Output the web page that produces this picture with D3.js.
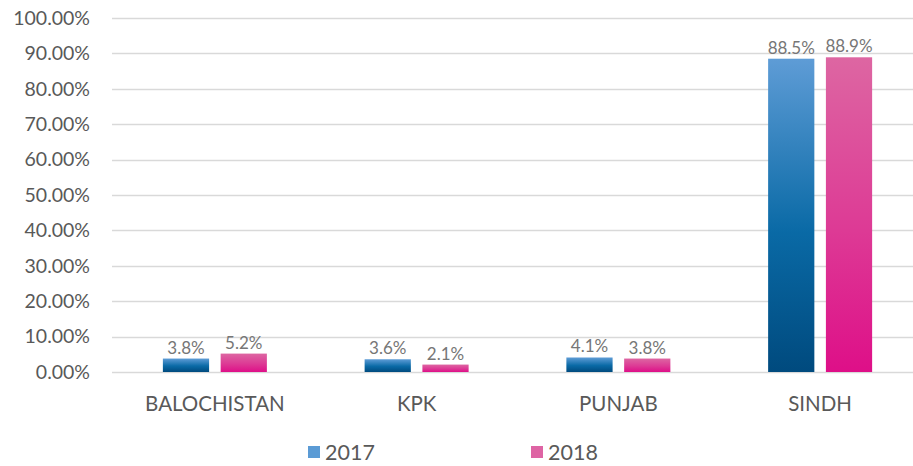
<!DOCTYPE html>
<html>
<head>
<meta charset="utf-8">
<script src="https://cdn.jsdelivr.net/npm/d3@7"></script>
<style>
  body { margin: 0; background: #fff; }
  text { font-family: Lato, "Noto Sans", sans-serif; }
</style>
</head>
<body>
<div id="chart-area"></div>
<script>
var provinces = ["BALOCHISTAN", "KPK", "PUNJAB", "SINDH"];
var years = ["2017", "2018"];
var values2017 = [3.8, 3.6, 4.1, 88.5];
var values2018 = [5.2, 2.1, 3.8, 88.9];
var yTicks = [0, 10, 20, 30, 40, 50, 60, 70, 80, 90, 100];

var width = 913, height = 466;
var svg = d3.select("#chart-area")
    .append("svg")
    .attr("width", width)
    .attr("height", height);

var data = provinces.map((p, i) => {
    return { province: p, values: [values2017[i], values2018[i]] };
});

// gradients, light on top and dark at the bottom
var colours = {
    "2017": { stops: ["#5e9cd6", "#0a6aa6", "#004a7e"], legend: "#5b9bd5" },
    "2018": { stops: ["#dd66a2", "#dd3a95", "#de0f88"], legend: "#de64a4" }
};
var defs = svg.append("defs");
years.forEach((yr) => {
    var g = defs.append("linearGradient")
        .attr("id", "grad" + yr)
        .attr("x1", 0).attr("y1", 0).attr("x2", 0).attr("y2", 1);
    g.append("stop").attr("offset", "0%").attr("stop-color", colours[yr].stops[0]);
    g.append("stop").attr("offset", "55%").attr("stop-color", colours[yr].stops[1]);
    g.append("stop").attr("offset", "100%").attr("stop-color", colours[yr].stops[2]);
});

var x0 = d3.scaleBand()
    .domain(provinces)
    .range([114, 921])
    .paddingInner(0)
    .paddingOuter(0);

var groupWidth = 104;
var x1 = d3.scaleBand()
    .domain(years)
    .range([0, groupWidth])
    .paddingInner(0.2);

var y = d3.scaleLinear()
    .domain([0, 100])
    .range([372, 18]);

// gridlines
svg.append("g")
    .selectAll("line")
    .data(yTicks)
    .enter()
    .append("line")
    .attr("x1", 112)
    .attr("x2", 913)
    .attr("y1", (d) => Math.round(y(d)) + 0.5)
    .attr("y2", (d) => Math.round(y(d)) + 0.5)
    .attr("stroke", "#d9d9d9")
    .attr("stroke-width", 1.3);

// y axis labels
svg.append("g")
    .selectAll("text")
    .data(yTicks)
    .enter()
    .append("text")
    .attr("x", 90)
    .attr("y", (d) => y(d))
    .attr("dy", "0.35em")
    .attr("text-anchor", "end")
    .attr("font-size", 19.5)
    .attr("fill", "#595959")
    .text((d) => d.toFixed(2) + "%");

// bars
var groups = svg.append("g")
    .selectAll("g")
    .data(data)
    .enter()
    .append("g")
    .attr("transform", (d) => "translate(" + (x0(d.province) + (x0.bandwidth() - groupWidth) / 2) + ",0)");

groups.selectAll("rect")
    .data((d) => d.values.map((v, i) => ({ year: years[i], value: v })))
    .enter()
    .append("rect")
    .attr("x", (d) => x1(d.year))
    .attr("y", (d) => y(d.value))
    .attr("width", x1.bandwidth())
    .attr("height", (d) => y(0) - y(d.value))
    .attr("fill", (d) => "url(#grad" + d.year + ")");

groups.selectAll(".lbl")
    .data((d) => d.values.map((v, i) => ({ year: years[i], value: v })))
    .enter()
    .append("text")
    .attr("class", "lbl")
    .attr("x", (d) => x1(d.year) + x1.bandwidth() / 2)
    .attr("y", (d) => y(d.value) - 5)
    .attr("text-anchor", "middle")
    .attr("font-size", 17)
    .attr("fill", "#767676")
    .text((d) => d.value.toFixed(1) + "%");

// category labels
svg.append("g")
    .selectAll("text")
    .data(provinces)
    .enter()
    .append("text")
    .attr("x", (d) => x0(d) + x0.bandwidth() / 2)
    .attr("y", 404)
    .attr("dy", "0.35em")
    .attr("text-anchor", "middle")
    .attr("font-size", 20.5)
    .attr("fill", "#595959")
    .text((d) => d);

// legend
var legendX = [308, 531];
var legend = svg.append("g")
    .selectAll("g")
    .data(years)
    .enter()
    .append("g")
    .attr("transform", (d, i) => "translate(" + legendX[i] + ",446)");
legend.append("rect")
    .attr("width", 12)
    .attr("height", 12)
    .attr("fill", (d) => colours[d].legend);
legend.append("text")
    .attr("x", 17)
    .attr("y", 6)
    .attr("dy", "0.35em")
    .attr("font-size", 21.5)
    .attr("fill", "#595959")
    .text((d) => d);
</script>
</body>
</html>
